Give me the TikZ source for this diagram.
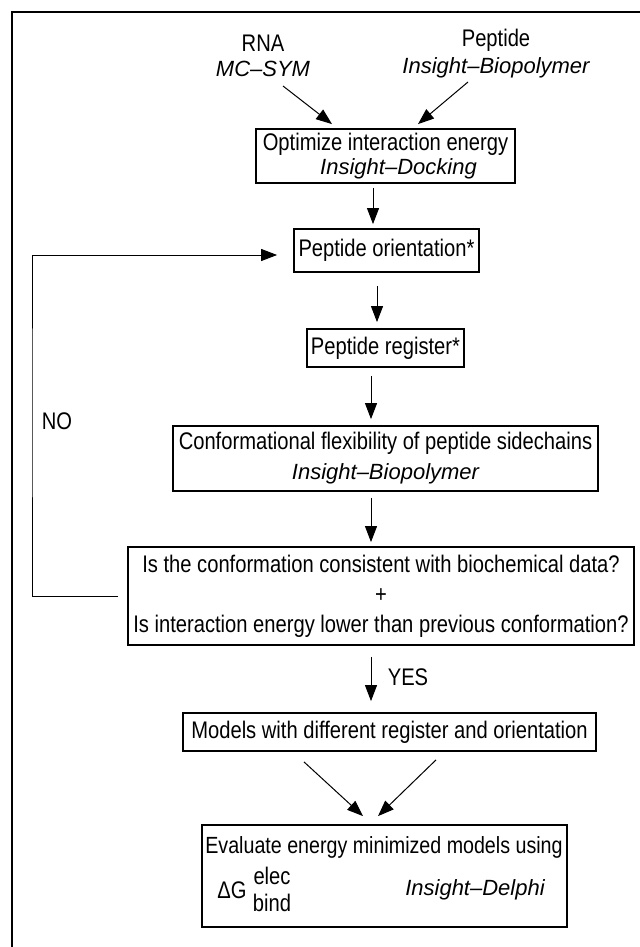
\documentclass[tikz,border=0pt]{standalone}
\usepackage{fontspec}
\setmainfont{Liberation Sans}[FakeStretch=0.84]
\newfontfamily\oblfont{Liberation Sans}[Ligatures=TeX]
\newcommand\toolname[1]{{\oblfont\itshape\fontsize{11}{15}\selectfont #1}}
\usetikzlibrary{arrows.meta}

\begin{document}
\begin{tikzpicture}[x=0.5pt,y=-0.5pt,>={Triangle[length=8pt,width=6pt]},
  every node/.style={font=\fontsize{12}{15}\selectfont,inner sep=1pt},
  stage box/.style={draw,line width=0.9pt,align=center},
  link/.style={->,line width=0.5pt}]

  \useasboundingbox (0,0) rectangle (639,947);
  \draw[line width=1pt] (12,960) |- (650,12);

  \node[align=center] (rna) at (263,55.5) {RNA\\[-2.5pt]\toolname{MC--SYM}};
  \node[align=center] (pep) at (496,54) {Peptide\\[-1.5pt]\toolname{Insight--Biopolymer}};

  \node[stage box,minimum width=129.5pt,minimum height=27pt] (opt) at (385.5,156)
    {Optimize interaction energy\\[-3pt]\hspace*{13pt}\toolname{Insight--Docking}};
  \node[stage box,minimum width=92.5pt,minimum height=21.5pt] (orient) at (386.5,250.5) {Peptide orientation*};
  \node[stage box,minimum width=78.5pt,minimum height=19pt] (reg) at (385.5,348) {Peptide register*};
  \node[stage box,minimum width=212.5pt,minimum height=32.5pt] (flex) at (385.5,458.5)
    {Conformational flexibility of peptide sidechains\\\toolname{Insight--Biopolymer}};
  \node[stage box,minimum width=253pt,minimum height=49pt] (check) at (381,596)
    {Is the conformation consistent with biochemical data?\\+\\Is interaction energy lower than previous conformation?};
  \node[stage box,minimum width=206.5pt,minimum height=19pt] (models) at (389.5,732)
    {Models with different register and orientation};
  \node[stage box,minimum width=182.5pt,minimum height=51pt] (eval) at (384.5,876) {};

  % contents of the last box
  \node[font=\fontsize{11.7}{15}\selectfont] (evaltitle) at (384,847) {Evaluate energy minimized models using};
  \node (dg) at (232,890) {ΔG};
  \node (elec) at (272,876) {elec};
  \node (bind) at (272,903) {bind};
  \node (delphi) at (475,890) {\toolname{Insight--Delphi}};

  \node (no) at (57,421) {NO};
  \node (yes) at (408,677) {YES};
  \coordinate (noturn) at (32,400);

  \path[link]
    ([xshift=10pt,yshift=-15.25pt]rna.center) edge ([xshift=-26.75pt,yshift=2pt]opt.north)
    ([xshift=-14pt,yshift=-14pt]pep.center) edge ([xshift=16.25pt,yshift=2pt]opt.north)
    ([xshift=-6.25pt,yshift=-2pt]opt.south) edge ([xshift=-6.75pt,yshift=2pt]orient.north)
    ([xshift=-4.75pt,yshift=-6.5pt]orient.south) edge ([xshift=-4.25pt,yshift=3pt]reg.north)
    ([xshift=-7.25pt,yshift=-4pt]reg.south) edge ([xshift=-7.25pt,yshift=3pt]flex.north)
    ([xshift=-7.25pt,yshift=-3pt]flex.south) edge ([xshift=-5pt,yshift=2pt]check.north)
    ([xshift=-5pt,yshift=-5.5pt]check.south) edge ([xshift=-9.25pt,yshift=5.5pt]models.north)
    ([xshift=-42.75pt,yshift=-5pt]models.south) edge ([xshift=-10.75pt,yshift=4pt]eval.north)
    ([xshift=23.25pt,yshift=-4pt]models.south) edge ([xshift=-3.25pt,yshift=4pt]eval.north);

  % NO loop back to the orientation step
  \draw[link,shorten >=8pt] ([xshift=-4.5pt]check.west) -| (noturn) |- ([yshift=-2.25pt]orient.west);

\end{tikzpicture}
\end{document}
